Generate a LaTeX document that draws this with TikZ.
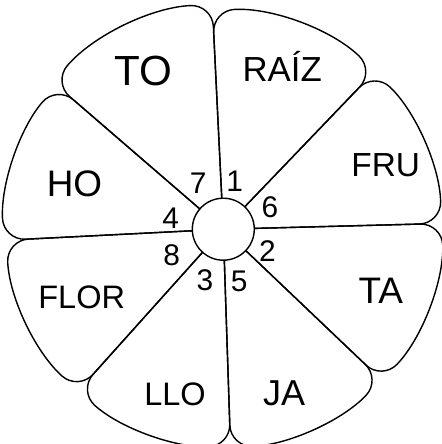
\documentclass[tikz,border=0pt]{standalone}
\usepackage{fontspec}
\setmainfont{Liberation Sans}
\usepackage{tikz}
\tikzset{
    wheel/.style={
        x=0.02cm, y=0.02cm,
        petal/.style={draw, line width=0.8pt, rounded corners=0.44cm},
        hub/.style={circle, draw, line width=0.8pt, fill=white, minimum size=1.24cm, inner sep=0pt},
        word/.style={anchor=base, inner sep=0pt, font=\fontsize{##1}{##1}\selectfont},
        num/.style={anchor=base, inner sep=0pt, font=\fontsize{17}{17}\selectfont},
    },
}

\begin{document}
\begin{tikzpicture}[wheel]
            \useasboundingbox (-223.3,-214.8) rectangle (217.7,229.2);

            % petals: start angle / end angle / radius
            \foreach \a/\b/\r in {1.5/46.2/218, 46.2/92.8/219, 92.8/139.2/225, 139.2/182.9/220,
                                  182.9/228.1/217, 228.1/271.9/217, 271.9/316.4/218, 316.4/361.5/219}
            \draw[petal] (0,0) -- (\a:\r) arc[start angle=\a, end angle=\b, radius=\r] -- cycle;

            \node[hub] (hub) at (0,0) {};

            \node[word=24]   (to)   at (-80,144.2)   {TO};
            \node[word=19.8] (raiz) at (58.9,147.5)  {RAÍZ};
            \node[word=19]   (fru)  at (162.5,52.5)  {FRU};
            \node[word=21]   (ho)   at (-148.8,32.5) {HO};
            \node[word=18.5] (flor) at (-141.6,-79.1) {FLOR};
            \node[word=21]   (ta)   at (157.5,-74.1) {TA};
            \node[word=18.5] (llo)  at (-48.3,-175.8) {LLO};
            \node[word=20.5] (ja)   at (60.9,-175.8) {JA};

            \foreach \n/\x/\y in {7/-25/35.9, 1/11.5/37.5, 6/46.7/11.9, 4/-52.5/0.9,
                                  8/-51.6/-35.8, 2/44.2/-32.5, 3/-18.3/-60.8, 5/15.9/-62.5}
            \node[num] (n\n) at (\x,\y) {\n};
        \end{tikzpicture}
\end{document}
